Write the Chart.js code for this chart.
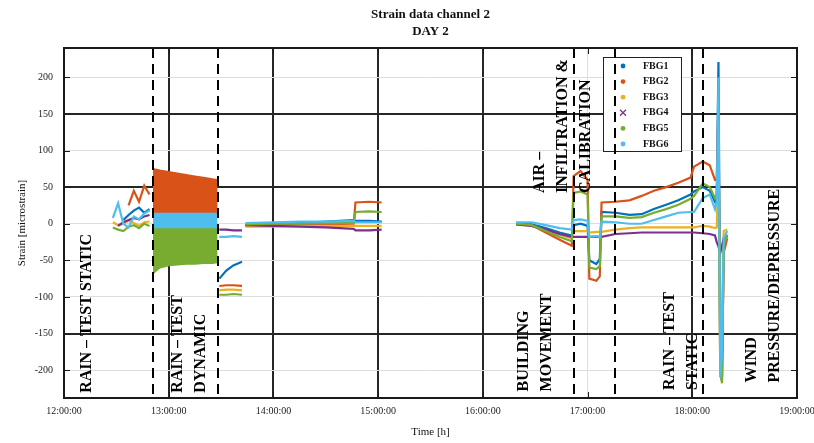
<!DOCTYPE html>
<html>
<head>
<meta charset="utf-8">
<title>Strain data channel 2 - DAY 2</title>
<script src="https://cdn.jsdelivr.net/npm/chart.js@4/dist/chart.umd.min.js"></script>
<style>
  html, body { margin: 0; padding: 0; background: #fff; }
</style>
</head>
<body>
<canvas id="strain" width="814" height="443"></canvas>
<script>
// sample times (hh:mm); rows where every trace is null split the test sessions
const times = [
  "12:28", "12:31", "12:34", "12:37", "12:40", "12:43", "12:46", "12:49",
  "13:00",
  "13:29", "13:33", "13:37", "13:42",
  "13:43",
  "13:44", "14:00", "14:15", "14:30", "14:46", "14:47", "14:55", "15:02",
  "15:40",
  "16:19", "16:28", "16:36", "16:44", "16:51",
  "16:52", "16:56", "17:00",
  "17:01", "17:05", "17:07",
  "17:08", "17:16", "17:24", "17:31", "17:38", "17:45", "17:52", "17:59", "18:01", "18:06", "18:10", "18:13",
  "18:14", "18:15", "18:16", "18:17", "18:18", "18:20"
];

const fbg1 = [
  null, null, 5, 12, 18, 22, 15, 20,
  null,
  -75, -64, -57, -52,
  null,
  -3, -1, 1, 3, 5, 4, 4, 3,
  null,
  0, -1, -6, -12, -16,
  -2, 0, -3,
  -50, -55, -48,
  16, 15, 12, 13, 20, 26, 32, 40, 44, 50, 45, 30,
  40, 221, -150, -215, -30, -15
];
const fbg2 = [
  null, null, null, 25, 45, 30, 52, 40,
  null,
  -85, -84, -84, -85,
  null,
  -2, -2, -1, -1, 0, 29, 30, 29,
  null,
  0, -2, -12, -22, -30,
  65, 72, 60,
  -75, -78, -72,
  29, 30, 32, 38, 45, 50, 56, 63, 78, 85, 80, 60,
  60, 170, -200, -215, -40, -20
];
const fbg3 = [
  2, -2, 0, 4, 1, -3, 2, 3,
  null,
  -91, -90, -90, -91,
  null,
  -4, -4, -3, -3, -3, -3, -3, -3,
  null,
  -1, -3, -9, -15, -20,
  -10, -10, -10,
  -12, -11, -11,
  -11, -8, -6, -5, -5, -5, -5, -5, -5, -3, -4, -6,
  -5, 80, -190, -120, -10, -8
];
const fbg4 = [
  null, -3, 2, 5, 8, 6, 10, 12,
  null,
  -8, -8, -9, -9,
  null,
  -2, -3, -4, -5, -7, -9, -9, -8,
  null,
  -1, -3, -8, -14, -18,
  -18, -18, -18,
  -18, -18, -18,
  -18, -14, -13, -12, -12, -12, -12, -12, -12, -13, -14, -16,
  -25, -31, -40, -30, -20, -18
];
const fbg5 = [
  -5, -8, -10, -4, -2, -6, 0, -3,
  null,
  -97, -97, -96, -97,
  null,
  -1, 0, 0, 1, 1, 16, 17, 16,
  null,
  0, -2, -10, -18, -24,
  42, 44, 40,
  -60, -62, -58,
  10, 10, 8, 9, 15, 20, 26, 34, 38, 55, 50, 35,
  40, 110, -180, -218, -30, -15
];
const fbg6 = [
  8, 28, 0, -5, 10, 6, 14, 18,
  null,
  -18, -18, -17, -18,
  null,
  1, 2, 3, 3, 4, 2, 2, 2,
  null,
  2, 2, -2, -6, -8,
  5, 6, 4,
  -18, -17, -18,
  3, 2, 0, 0, 5, 10, 15, 16, 16, 35, 40, 20,
  30, 200, -210, -180, -20, -10
];

// dynamic rain test: the fast oscillation is drawn as min/max envelopes
const bandTimes = ["12:51", "12:55", "13:00", "13:05", "13:10", "13:15", "13:20", "13:25", "13:28"];
const fbg2Hi = [75, 73, 71, 69, 67, 65, 63, 61, 60];
const fbg2Lo = [16, 16, 16, 16, 16, 16, 16, 16, 16];
const fbg6Hi = [16, 16, 16, 16, 16, 16, 16, 16, 16];
const fbg6Lo = [-5, -5, -5, -5, -5, -5, -5, -5, -5];
const fbg5Hi = [-5, -5, -5, -5, -5, -5, -5, -5, -5];
const fbg5Lo = [-68, -60, -57, -56, -55, -55, -54, -54, -53];

const seriesNames = ["FBG1", "FBG2", "FBG3", "FBG4", "FBG5", "FBG6"];
const seriesColors = ["#0072BD", "#D95319", "#EDB120", "#7E2F8E", "#77AC30", "#4DBEEE"];

const xTicks = [12, 13, 14, 15, 16, 17, 18, 19];
const yTicks = [-200, -150, -100, -50, 0, 50, 100, 150, 200];

// test phase boundaries and their captions
const eventTimes = ["12:51", "13:28", "16:52", "17:16", "18:06"];
const noteLines = [
  ["RAIN \u2013 TEST STATIC"],
  ["RAIN \u2013 TEST", "DYNAMIC"],
  ["BUILDING", "MOVEMENT"],
  ["AIR \u2013", "INFILTRATION &", "CALIBRATION"],
  ["RAIN \u2013 TEST", "STATIC"],
  ["WIND", "PRESSURE/DEPRESSURE"]
];
const noteTimes = ["12:13", "13:12", "16:30", "16:46", "17:54", "18:41"];
const noteStart = [-231, -231, -229, 42, -227, -217];

const heavyX = [13, 14, 15, 16, 18];
const heavyY = [150, 50, -150];

const toHours = t => { const [h, m] = t.split(":").map(Number); return h + m / 60; };
const toPoints = (ts, vals) => ts.map((t, i) => ({ x: toHours(t), y: vals[i] }));

const series = [fbg1, fbg2, fbg3, fbg4, fbg5, fbg6];
const datasets = series.map((vals, i) => ({
  label: seriesNames[i],
  data: toPoints(times, vals),
  borderColor: seriesColors[i],
  backgroundColor: seriesColors[i],
  borderWidth: 2.2,
  pointRadius: 0,
  tension: 0,
  spanGaps: false,
  fill: false,
  order: 6 - i
}));

const bands = [[fbg2Hi, fbg2Lo, 1], [fbg6Hi, fbg6Lo, 5], [fbg5Hi, fbg5Lo, 4]];
bands.forEach(([hi, lo, k]) => {
  datasets.push({
    data: toPoints(bandTimes, hi), borderColor: seriesColors[k], backgroundColor: seriesColors[k],
    borderWidth: 1.5, pointRadius: 0, fill: "+1", order: 10
  });
  datasets.push({
    data: toPoints(bandTimes, lo), borderColor: seriesColors[k], backgroundColor: seriesColors[k],
    borderWidth: 1.5, pointRadius: 0, fill: false, order: 10
  });
});

const serif = "'Liberation Serif', 'DejaVu Serif', serif";

const overlay = {
  id: "overlay",
  afterDatasetsDraw(chart) {
    const { ctx, chartArea: a, scales: { x, y } } = chart;
    ctx.save();

    // legend box
    const lx = 603, ly = 57, lw = 78, lh = 94;
    ctx.fillStyle = "#fff";
    ctx.fillRect(lx, ly, lw, lh);
    ctx.strokeStyle = "#222";
    ctx.lineWidth = 1;
    ctx.strokeRect(lx + 0.5, ly + 0.5, lw, lh);
    ctx.font = "bold 10px " + serif;
    ctx.textAlign = "left";
    ctx.textBaseline = "middle";
    seriesNames.forEach((name, i) => {
      const ry = ly + 9 + i * 15.6;
      ctx.fillStyle = seriesColors[i];
      ctx.strokeStyle = seriesColors[i];
      if (name === "FBG4") {
        ctx.lineWidth = 1.3;
        ctx.beginPath();
        ctx.moveTo(620, ry - 3); ctx.lineTo(626, ry + 3);
        ctx.moveTo(626, ry - 3); ctx.lineTo(620, ry + 3);
        ctx.stroke();
      } else {
        ctx.beginPath();
        ctx.arc(623, ry, 2.4, 0, Math.PI * 2);
        ctx.fill();
      }
      ctx.fillStyle = "#111";
      ctx.fillText(name, 643, ry);
    });

    // phase boundaries
    ctx.strokeStyle = "#000";
    ctx.lineWidth = 2;
    ctx.setLineDash([10, 6]);
    eventTimes.forEach(t => {
      const px = Math.round(x.getPixelForValue(toHours(t)));
      ctx.beginPath();
      ctx.moveTo(px, a.top);
      ctx.lineTo(px, a.bottom);
      ctx.stroke();
    });
    ctx.setLineDash([]);

    // phase captions, rotated
    ctx.font = "bold 16px " + serif;
    ctx.fillStyle = "#000";
    ctx.textAlign = "left";
    ctx.textBaseline = "middle";
    noteLines.forEach((lines, i) => {
      const cx = x.getPixelForValue(toHours(noteTimes[i]));
      const py = y.getPixelForValue(noteStart[i]);
      lines.forEach((txt, j) => {
        ctx.save();
        ctx.translate(cx + (j - (lines.length - 1) / 2) * 23, py);
        ctx.rotate(-Math.PI / 2);
        ctx.fillText(txt, 0, 0);
        ctx.restore();
      });
    });

    // axes box with inward ticks
    ctx.strokeStyle = "#1a1a1a";
    ctx.lineWidth = 1;
    xTicks.forEach(v => {
      const px = Math.round(x.getPixelForValue(v)) + 0.5;
      ctx.beginPath();
      ctx.moveTo(px, a.bottom); ctx.lineTo(px, a.bottom - 6);
      ctx.moveTo(px, a.top); ctx.lineTo(px, a.top + 6);
      ctx.stroke();
    });
    yTicks.forEach(v => {
      const py = Math.round(y.getPixelForValue(v)) + 0.5;
      ctx.beginPath();
      ctx.moveTo(a.left, py); ctx.lineTo(a.left + 6, py);
      ctx.moveTo(a.right, py); ctx.lineTo(a.right - 6, py);
      ctx.stroke();
    });
    ctx.lineWidth = 2;
    ctx.strokeRect(a.left, a.top, a.right - a.left, a.bottom - a.top);
    ctx.restore();
  },
  afterDraw(chart) {
    const { ctx, chartArea: a } = chart;
    const mid = (a.left + a.right) / 2;
    ctx.save();
    ctx.fillStyle = "#111";
    ctx.textAlign = "center";
    ctx.textBaseline = "middle";
    ctx.font = "bold 13px " + serif;
    ctx.fillText("Strain data channel 2", mid, 15);
    ctx.fillText("DAY 2", mid, 32);
    ctx.font = "11px " + serif;
    ctx.fillText("Time [h]", mid, 432);
    ctx.translate(22, (a.top + a.bottom) / 2);
    ctx.rotate(-Math.PI / 2);
    ctx.fillText("Strain [microstrain]", 0, 0);
    ctx.restore();
  }
};

const gridColor = heavy => c => heavy.includes(c.tick && c.tick.value) ? "#262626" : "#dedede";
const gridWidth = heavy => c => heavy.includes(c.tick && c.tick.value) ? 2 : 1;

new Chart(document.getElementById("strain"), {
  type: "line",
  data: { datasets },
  plugins: [overlay],
  options: {
    responsive: false,
    devicePixelRatio: 1,
    animation: false,
    layout: { padding: { top: 48, right: 17, left: 0, bottom: 0 } },
    plugins: { legend: { display: false }, tooltip: { enabled: false } },
    scales: {
      x: {
        type: "linear",
        min: 12,
        max: 19,
        afterBuildTicks: s => { s.ticks = xTicks.map(v => ({ value: v })); },
        afterFit: s => { s.height = 45; s.paddingLeft = 0; s.paddingRight = 0; },
        ticks: {
          autoSkip: false,
          maxRotation: 0,
          padding: 7,
          color: "#222",
          font: { family: serif, size: 10 },
          callback: v => String(v).padStart(2, "0") + ":00:00"
        },
        grid: { color: gridColor(heavyX), lineWidth: gridWidth(heavyX), drawTicks: false },
        border: { display: false }
      },
      y: {
        min: -238,
        max: 240,
        afterBuildTicks: s => { s.ticks = yTicks.map(v => ({ value: v })); },
        afterFit: s => { s.width = 64; s.paddingTop = 0; s.paddingBottom = 0; },
        ticks: {
          padding: 11,
          color: "#222",
          font: { family: serif, size: 10 },
          callback: v => String(v)
        },
        grid: { color: gridColor(heavyY), lineWidth: gridWidth(heavyY), drawTicks: false },
        border: { display: false }
      }
    }
  }
});
</script>
</body>
</html>
